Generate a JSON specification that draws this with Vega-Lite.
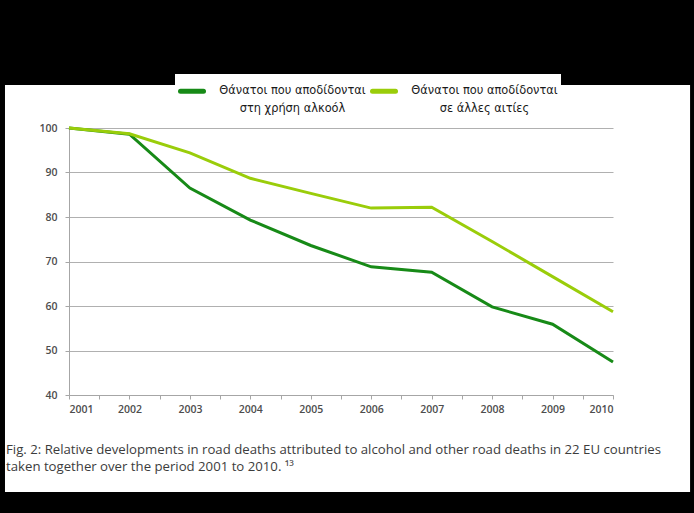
{
  "$schema": "https://vega.github.io/schema/vega-lite/v6.json",
  "width": 544,
  "height": 267,
  "autosize": {"type": "none"},
  "padding": {"left": 69, "top": 128, "right": 81, "bottom": 118},
  "background": "white",
  "config": {
    "view": {"stroke": null},
    "axisX": {
      "title": null, "values": [2001, 2002, 2003, 2004, 2005, 2006, 2007, 2008, 2009, 2010],
      "format": "d", "grid": false, "domainColor": "#a6a6a6", "tickColor": "#a6a6a6",
      "tickSize": 4, "labelPadding": 5, "labelFont": "Open Sans", "labelFontSize": 10.5,
      "labelColor": "#4d4d4d", "labelFontWeight": 600
    },
    "axisY": {
      "title": null, "values": [40, 50, 60, 70, 80, 90, 100],
      "grid": true, "gridColor": "#b0b0b0", "domainColor": "#a6a6a6", "tickColor": "#a6a6a6",
      "tickSize": 4, "labelPadding": 8, "labelFont": "Open Sans", "labelFontSize": 10.5,
      "labelColor": "#4d4d4d", "labelFontWeight": 600
    }
  },
  "layer": [
    {
      "data": {"values": [{}]},
      "mark": {"type": "rect", "fill": "black", "clip": false},
      "encoding": {
        "x": {"datum": 1990, "type": "quantitative", "scale": {"domain": [2001, 2010], "nice": false, "zero": false}, "title": null},
        "x2": {"datum": 2020},
        "y": {"datum": 109.66, "type": "quantitative", "scale": {"domain": [40, 100], "nice": false, "zero": false}, "title": null},
        "y2": {"datum": 140}
      }
    },
    {
      "data": {"values": [{}]},
      "mark": {"type": "rect", "fill": "black", "clip": false},
      "encoding": {
        "x": {"datum": 1990, "type": "quantitative", "title": null},
        "x2": {"datum": 2020},
        "y": {"datum": 18.2, "type": "quantitative", "title": null},
        "y2": {"datum": 0}
      }
    },
    {
      "data": {"values": [{}]},
      "mark": {"type": "rect", "fill": "black", "clip": false},
      "encoding": {
        "x": {"datum": 1990, "type": "quantitative", "title": null},
        "x2": {"datum": 1999.941},
        "y": {"datum": 0, "type": "quantitative", "title": null},
        "y2": {"datum": 140}
      }
    },
    {
      "data": {"values": [{}]},
      "mark": {"type": "rect", "fill": "black", "clip": false},
      "encoding": {
        "x": {"datum": 2011.275, "type": "quantitative", "title": null},
        "x2": {"datum": 2020},
        "y": {"datum": 0, "type": "quantitative", "title": null},
        "y2": {"datum": 140}
      }
    },
    {
      "data": {
        "values": [
          {"year": 2001, "value": 100, "series": "Θάνατοι που αποδίδονται στη χρήση αλκοόλ"},
          {"year": 2002, "value": 98.6, "series": "Θάνατοι που αποδίδονται στη χρήση αλκοόλ"},
          {"year": 2003, "value": 86.5, "series": "Θάνατοι που αποδίδονται στη χρήση αλκοόλ"},
          {"year": 2004, "value": 79.3, "series": "Θάνατοι που αποδίδονται στη χρήση αλκοόλ"},
          {"year": 2005, "value": 73.6, "series": "Θάνατοι που αποδίδονται στη χρήση αλκοόλ"},
          {"year": 2006, "value": 68.8, "series": "Θάνατοι που αποδίδονται στη χρήση αλκοόλ"},
          {"year": 2007, "value": 67.6, "series": "Θάνατοι που αποδίδονται στη χρήση αλκοόλ"},
          {"year": 2008, "value": 59.8, "series": "Θάνατοι που αποδίδονται στη χρήση αλκοόλ"},
          {"year": 2009, "value": 55.9, "series": "Θάνατοι που αποδίδονται στη χρήση αλκοόλ"},
          {"year": 2010, "value": 47.4, "series": "Θάνατοι που αποδίδονται στη χρήση αλκοόλ"},
          {"year": 2001, "value": 100, "series": "Θάνατοι που αποδίδονται σε άλλες αιτίες"},
          {"year": 2002, "value": 98.7, "series": "Θάνατοι που αποδίδονται σε άλλες αιτίες"},
          {"year": 2003, "value": 94.4, "series": "Θάνατοι που αποδίδονται σε άλλες αιτίες"},
          {"year": 2004, "value": 88.7, "series": "Θάνατοι που αποδίδονται σε άλλες αιτίες"},
          {"year": 2005, "value": 85.3, "series": "Θάνατοι που αποδίδονται σε άλλες αιτίες"},
          {"year": 2006, "value": 82.0, "series": "Θάνατοι που αποδίδονται σε άλλες αιτίες"},
          {"year": 2007, "value": 82.2, "series": "Θάνατοι που αποδίδονται σε άλλες αιτίες"},
          {"year": 2008, "value": 74.5, "series": "Θάνατοι που αποδίδονται σε άλλες αιτίες"},
          {"year": 2009, "value": 66.6, "series": "Θάνατοι που αποδίδονται σε άλλες αιτίες"},
          {"year": 2010, "value": 58.7, "series": "Θάνατοι που αποδίδονται σε άλλες αιτίες"}
        ]
      },
      "mark": {"type": "line", "strokeWidth": 3},
      "encoding": {
        "x": {
          "field": "year", "type": "quantitative", "title": null,
          "scale": {"domain": [2001, 2010], "nice": false, "zero": false}
        },
        "y": {
          "field": "value", "type": "quantitative", "title": null,
          "scale": {"domain": [40, 100], "nice": false, "zero": false}
        },
        "color": {
          "field": "series", "type": "nominal",
          "scale": {
            "domain": ["Θάνατοι που αποδίδονται στη χρήση αλκοόλ", "Θάνατοι που αποδίδονται σε άλλες αιτίες"],
            "range": ["#178a17", "#9acd0a"]
          },
          "legend": {
            "orient": "none", "legendX": 106, "legendY": -54, "direction": "horizontal",
            "title": null, "fillColor": "white", "padding": 3, "columnPadding": -4,
            "symbolType": "stroke", "symbolSize": 529, "symbolStrokeWidth": 5,
            "labelAlign": "center", "labelBaseline": "middle", "labelOffset": 86.5, "labelLimit": 400,
            "labelFont": "DejaVu Sans", "labelFontSize": 11.4, "labelColor": "#1a1a1a",
            "labelExpr": "[slice(datum.label, 0, 23), slice(datum.label, 24)]",
            "encode": {
              "labels": {"update": {"lineHeight": {"value": 18}}},
              "symbols": {"update": {"strokeCap": {"value": "round"}}}
            }
          }
        }
      }
    },
    {
      "data": {"values": [{}]},
      "mark": {
        "type": "text", "clip": false, "align": "left", "baseline": "alphabetic",
        "font": "Open Sans", "fontSize": 13.2, "color": "#3c3c3c", "lineHeight": 16.5,
        "text": ["Fig. 2: Relative developments in road deaths attributed to alcohol and other road deaths in 22 EU countries", "taken together over the period 2001 to 2010. ¹³"]
      },
      "encoding": {
        "x": {"datum": 1999.958, "type": "quantitative"},
        "y": {"datum": 26.73, "type": "quantitative"}
      }
    }
  ]
}
